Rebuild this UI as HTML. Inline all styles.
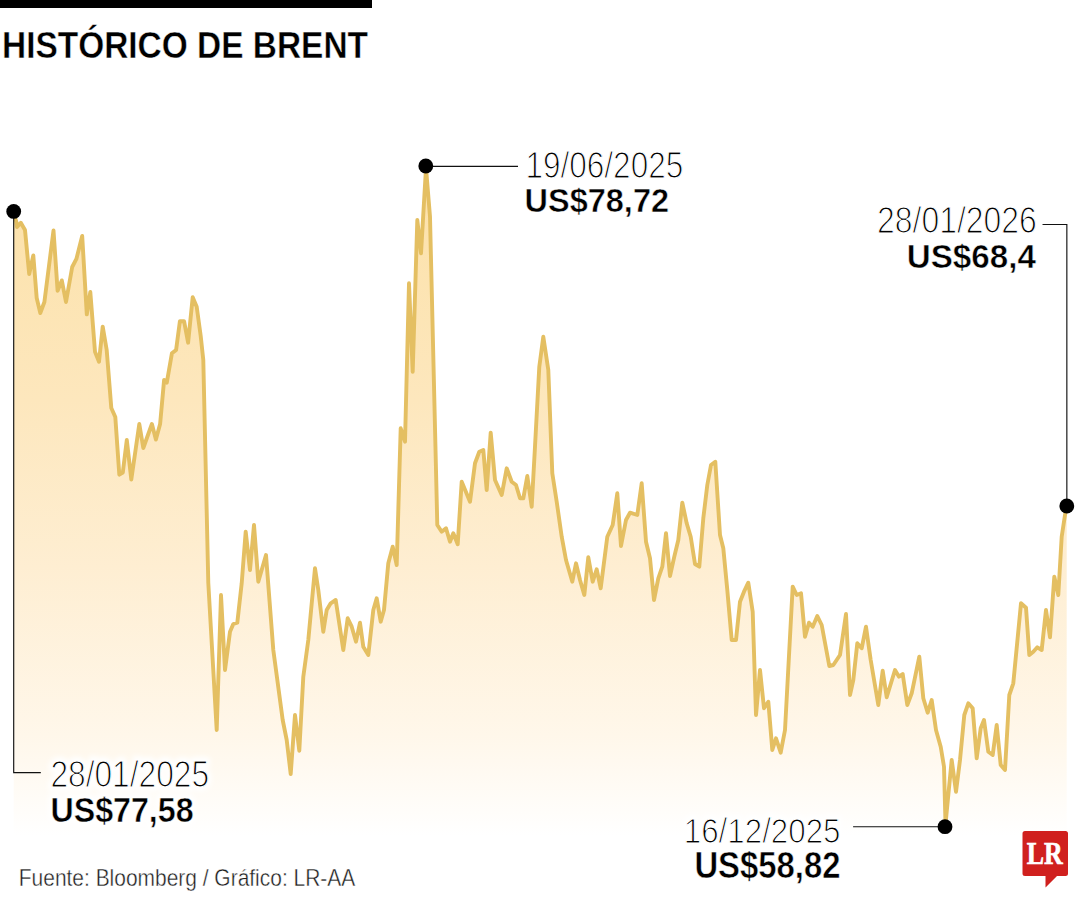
<!DOCTYPE html>
<html><head><meta charset="utf-8">
<style>
html,body{margin:0;padding:0;background:#fff;}
body{width:1080px;height:900px;overflow:hidden;position:relative;font-family:"Liberation Sans",sans-serif;}
svg{position:absolute;left:0;top:0;}
text{font-family:"Liberation Sans",sans-serif;}
.d{font-weight:400;fill:#000;stroke:#fff;stroke-width:1.2px;}
.v{font-weight:700;fill:#000;stroke:#fff;stroke-width:0.5px;}
.h{fill:#fff;stroke:#fff;stroke-width:8px;stroke-linejoin:round;}
.f{font-weight:400;fill:#1e1e1e;stroke:#fff;stroke-width:0.4px;}
</style></head>
<body>
<svg width="1080" height="900" viewBox="0 0 1080 900">
<defs>
<linearGradient id="g" x1="0" y1="165" x2="0" y2="836" gradientUnits="userSpaceOnUse">
<stop offset="0" stop-color="#fce1a8"/>
<stop offset="0.35" stop-color="#fde7bd"/>
<stop offset="0.6" stop-color="#feeed2"/>
<stop offset="0.85" stop-color="#fff7ea"/>
<stop offset="1" stop-color="#ffffff"/>
</linearGradient>
<filter id="blur" x="-20%" y="-50%" width="140%" height="200%"><feGaussianBlur stdDeviation="2.5"/></filter>
</defs>
<rect x="0" y="0" width="372" height="8" fill="#000"/>
<text x="2" y="57.7" font-weight="700" font-size="36.5" fill="#000" stroke="#fff" stroke-width="0.4" textLength="366" lengthAdjust="spacingAndGlyphs">HISTÓRICO DE BRENT</text>
<path d="M13.7,836 L13.7,214 14,214 L16.4,222 L17,227 L20.8,222.8 L25,230 L29.2,274 L33.3,255.4 L36.7,298 L40.3,313 L44.4,302 L53.5,230.4 L57.6,290.8 L61.8,280.4 L66,302 L72.2,267 L76.4,258.9 L82.2,236 L86.8,314.4 L90.3,292 L95,351.7 L99,361.7 L102.7,326.7 L106.7,350 L111.3,408 L115.3,417 L119.3,474.7 L122.8,472.5 L126.8,440 L131.3,479.5 L139.3,424 L143.3,448 L151.9,424 L155.9,439.5 L160.1,424 L164.1,380 L166.8,382.7 L171.9,353.3 L176.1,349.9 L179.9,321.3 L184.1,321.3 L188.1,342.7 L192.7,297.3 L196.7,306.7 L200.7,336 L203.3,360 L208.3,583 L216.7,730 L221,595 L225,670 L230,631.7 L233.3,624 L237.3,622.7 L241.7,583.3 L245.7,531.7 L250,570 L254,525 L258.3,581.7 L266,555 L273.3,650 L282.7,720 L286.7,740 L290.7,774 L295,715 L299.3,750.7 L303.3,676.7 L308.3,640 L315,568.3 L318.3,590 L323.3,631.7 L326.7,610 L330.7,603.3 L335.7,600 L343.3,650 L347.7,618.3 L351.7,626.7 L356,641.7 L360,622.7 L363.3,646.7 L368.3,655 L373.3,610 L376.7,598.3 L380.7,621.7 L384,610 L388.3,563.3 L392.7,546.7 L396.7,565 L400.7,428.3 L405,441.7 L409,283.3 L412.7,371.7 L417.3,220 L421,253.3 L426,168 L430,216.7 L437.3,525 L441.7,531.7 L446,528.3 L450,541.7 L453.3,533.3 L457.7,544.3 L461.7,481.7 L470,501.7 L475,463.3 L479.3,451.7 L483.3,450 L486.7,490 L490.7,432.7 L495,480 L501.7,495 L506.7,468.3 L511.7,481.7 L516,485 L520,498.3 L523.3,498.3 L527.3,476 L531.7,506.7 L535,446.7 L539.3,366.7 L543.3,336.7 L548.3,370 L552.3,473.3 L556.7,501.7 L561.7,536.7 L566,560 L572.3,581.7 L576,563.3 L580,580 L584.3,595 L588.3,557.3 L592.7,581.7 L596.7,569.3 L600.7,588.3 L607.3,536.7 L612.7,525 L617.3,493.3 L621,546 L626,520 L630,512.7 L637.3,515 L641.7,483.3 L646,541.7 L650,558.3 L654,600 L658.3,578.3 L662.3,566.7 L666,533.3 L670,576 L674.3,556.7 L678.3,540 L682.3,502.7 L686.7,523.3 L690.7,536.7 L695,564 L699.3,566.7 L703.3,518.3 L707.3,485 L711,465 L715.3,461.7 L720,535 L723.3,548.3 L727.3,590 L731.7,640 L736,640 L740,601.7 L744,591.7 L748.3,582.7 L752.7,611.7 L756,715 L760,670 L764,708.3 L768.3,701.7 L772.3,750 L776,738.3 L780.7,752.7 L785,730 L792.7,586.7 L796.7,595 L801,593.3 L805,636.7 L809,622.7 L812.7,626.7 L817.3,616 L821.7,625 L829.3,666 L833.3,665 L840,655 L846,614 L850,695 L853.3,680 L857.3,643.3 L861.7,648.3 L866,626.7 L870.7,660 L878.3,705 L882.7,670.7 L886.7,697.3 L895,670 L899,676.7 L902.7,674 L907.3,705 L911.7,693.3 L919.3,656.7 L923.3,698.3 L927.7,712.7 L931.7,700 L936,730 L940.7,746.7 L944,766.7 L945.5,824 L951.7,760 L956,791.7 L960,760 L964.3,715 L968.3,703.3 L972.7,708.3 L976.7,758.3 L980.7,728.3 L984,720 L988.3,751.7 L992.7,755 L996.7,725 L1000.7,765 L1005,770 L1009.3,695 L1013.3,683.3 L1021,603.3 L1026,607.7 L1029.3,655 L1033.3,651.7 L1037.3,647.3 L1041.7,650 L1046,610 L1050,637.3 L1054.3,576.7 L1058.3,595 L1061.7,536.7 L1065,515 L1066.7,508 L1066.7,836 Z" fill="url(#g)"/>
<polyline points="14,214 16.4,222 17,227 20.8,222.8 25,230 29.2,274 33.3,255.4 36.7,298 40.3,313 44.4,302 53.5,230.4 57.6,290.8 61.8,280.4 66,302 72.2,267 76.4,258.9 82.2,236 86.8,314.4 90.3,292 95,351.7 99,361.7 102.7,326.7 106.7,350 111.3,408 115.3,417 119.3,474.7 122.8,472.5 126.8,440 131.3,479.5 139.3,424 143.3,448 151.9,424 155.9,439.5 160.1,424 164.1,380 166.8,382.7 171.9,353.3 176.1,349.9 179.9,321.3 184.1,321.3 188.1,342.7 192.7,297.3 196.7,306.7 200.7,336 203.3,360 208.3,583 216.7,730 221,595 225,670 230,631.7 233.3,624 237.3,622.7 241.7,583.3 245.7,531.7 250,570 254,525 258.3,581.7 266,555 273.3,650 282.7,720 286.7,740 290.7,774 295,715 299.3,750.7 303.3,676.7 308.3,640 315,568.3 318.3,590 323.3,631.7 326.7,610 330.7,603.3 335.7,600 343.3,650 347.7,618.3 351.7,626.7 356,641.7 360,622.7 363.3,646.7 368.3,655 373.3,610 376.7,598.3 380.7,621.7 384,610 388.3,563.3 392.7,546.7 396.7,565 400.7,428.3 405,441.7 409,283.3 412.7,371.7 417.3,220 421,253.3 426,168 430,216.7 437.3,525 441.7,531.7 446,528.3 450,541.7 453.3,533.3 457.7,544.3 461.7,481.7 470,501.7 475,463.3 479.3,451.7 483.3,450 486.7,490 490.7,432.7 495,480 501.7,495 506.7,468.3 511.7,481.7 516,485 520,498.3 523.3,498.3 527.3,476 531.7,506.7 535,446.7 539.3,366.7 543.3,336.7 548.3,370 552.3,473.3 556.7,501.7 561.7,536.7 566,560 572.3,581.7 576,563.3 580,580 584.3,595 588.3,557.3 592.7,581.7 596.7,569.3 600.7,588.3 607.3,536.7 612.7,525 617.3,493.3 621,546 626,520 630,512.7 637.3,515 641.7,483.3 646,541.7 650,558.3 654,600 658.3,578.3 662.3,566.7 666,533.3 670,576 674.3,556.7 678.3,540 682.3,502.7 686.7,523.3 690.7,536.7 695,564 699.3,566.7 703.3,518.3 707.3,485 711,465 715.3,461.7 720,535 723.3,548.3 727.3,590 731.7,640 736,640 740,601.7 744,591.7 748.3,582.7 752.7,611.7 756,715 760,670 764,708.3 768.3,701.7 772.3,750 776,738.3 780.7,752.7 785,730 792.7,586.7 796.7,595 801,593.3 805,636.7 809,622.7 812.7,626.7 817.3,616 821.7,625 829.3,666 833.3,665 840,655 846,614 850,695 853.3,680 857.3,643.3 861.7,648.3 866,626.7 870.7,660 878.3,705 882.7,670.7 886.7,697.3 895,670 899,676.7 902.7,674 907.3,705 911.7,693.3 919.3,656.7 923.3,698.3 927.7,712.7 931.7,700 936,730 940.7,746.7 944,766.7 945.5,824 951.7,760 956,791.7 960,760 964.3,715 968.3,703.3 972.7,708.3 976.7,758.3 980.7,728.3 984,720 988.3,751.7 992.7,755 996.7,725 1000.7,765 1005,770 1009.3,695 1013.3,683.3 1021,603.3 1026,607.7 1029.3,655 1033.3,651.7 1037.3,647.3 1041.7,650 1046,610 1050,637.3 1054.3,576.7 1058.3,595 1061.7,536.7 1065,515 1066.7,508" fill="none" stroke="#e4bf62" stroke-width="3.9" stroke-linejoin="round" stroke-linecap="round"/>
<g fill="none" stroke="#111" stroke-width="1.15">
<path d="M13.7,211.4 V772.6 H40.8"/>
<path d="M426,166.4 H518"/>
<path d="M1042.5,224.5 H1066.85 V506"/>
<path d="M853.1,826.7 H945"/>
</g>
<g fill="#000">
<circle cx="13.7" cy="211.4" r="7.4"/>
<circle cx="425.8" cy="166" r="7.4"/>
<circle cx="1066.8" cy="506" r="7.4"/>
<circle cx="945" cy="826.7" r="7.4"/>
</g>
<g filter="url(#blur)"><text class="h" x="525.40" y="177.60" font-size="36.84" font-weight="400" textLength="157.87" lengthAdjust="spacingAndGlyphs">19/06/2025</text>
<text class="h" x="524.60" y="212.00" font-size="33.90" font-weight="700" textLength="144.43" lengthAdjust="spacingAndGlyphs">US$78,72</text>
<text class="h" x="877.00" y="232.80" font-size="36.84" font-weight="400" textLength="159.86" lengthAdjust="spacingAndGlyphs">28/01/2026</text>
<text class="h" x="906.80" y="268.20" font-size="34.14" font-weight="700" textLength="129.04" lengthAdjust="spacingAndGlyphs">US$68,4</text>
<text class="h" x="50.40" y="786.80" font-size="36.47" font-weight="400" textLength="158.64" lengthAdjust="spacingAndGlyphs">28/01/2025</text>
<text class="h" x="50.40" y="821.60" font-size="34.47" font-weight="700" textLength="143.24" lengthAdjust="spacingAndGlyphs">US$77,58</text>
<text class="h" x="683.80" y="843.20" font-size="35.39" font-weight="400" textLength="156.70" lengthAdjust="spacingAndGlyphs">16/12/2025</text>
<text class="h" x="694.40" y="877.80" font-size="36.22" font-weight="700" textLength="146.04" lengthAdjust="spacingAndGlyphs">US$58,82</text>
<text class="h" x="18.80" y="886.40" font-size="24.30" font-weight="400" textLength="336.41" lengthAdjust="spacingAndGlyphs">Fuente: Bloomberg / Gráfico: LR-AA</text></g>
<text class="d" x="525.40" y="177.60" font-size="36.84" textLength="157.87" lengthAdjust="spacingAndGlyphs">19/06/2025</text>
<text class="v" x="524.60" y="212.00" font-size="33.90" textLength="144.43" lengthAdjust="spacingAndGlyphs">US$78,72</text>
<text class="d" x="877.00" y="232.80" font-size="36.84" textLength="159.86" lengthAdjust="spacingAndGlyphs">28/01/2026</text>
<text class="v" x="906.80" y="268.20" font-size="34.14" textLength="129.04" lengthAdjust="spacingAndGlyphs">US$68,4</text>
<text class="d" x="50.40" y="786.80" font-size="36.47" textLength="158.64" lengthAdjust="spacingAndGlyphs">28/01/2025</text>
<text class="v" x="50.40" y="821.60" font-size="34.47" textLength="143.24" lengthAdjust="spacingAndGlyphs">US$77,58</text>
<text class="d" x="683.80" y="843.20" font-size="35.39" textLength="156.70" lengthAdjust="spacingAndGlyphs">16/12/2025</text>
<text class="v" x="694.40" y="877.80" font-size="36.22" textLength="146.04" lengthAdjust="spacingAndGlyphs">US$58,82</text>
<text class="f" x="18.80" y="886.40" font-size="24.30" textLength="336.41" lengthAdjust="spacingAndGlyphs">Fuente: Bloomberg / Gráfico: LR-AA</text>
<path d="M1025,831 H1065.5 Q1068,831 1068,833.5 V873.5 Q1068,876 1065.5,876 H1057 L1045.5,887.5 V876 H1025 Q1022.5,876 1022.5,873.5 V833.5 Q1022.5,831 1025,831 Z" fill="#d0201e"/>
<text x="1026.8" y="864.3" font-weight="700" font-size="31" fill="#fff" stroke="#fff" stroke-width="0.6" textLength="36" lengthAdjust="spacingAndGlyphs" style="font-family:'Liberation Serif',serif">LR</text>
</svg>
</body></html>
